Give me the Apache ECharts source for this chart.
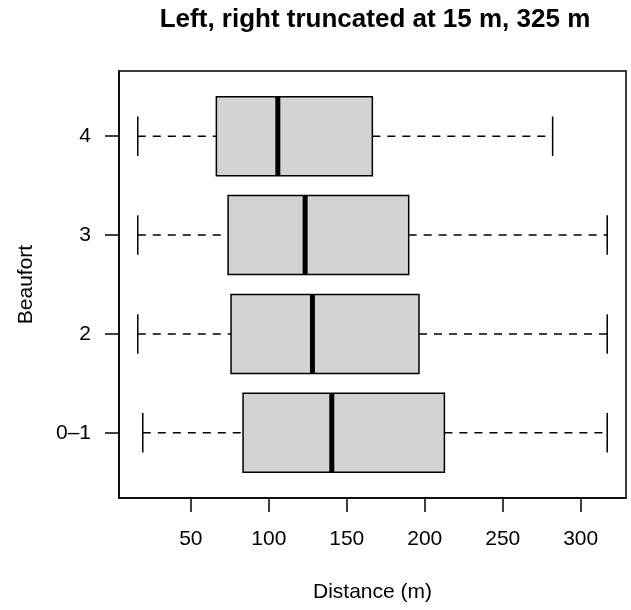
<!DOCTYPE html>
<html>
<head>
<meta charset="utf-8">
<title>Beaufort boxplot</title>
<script src="https://cdn.jsdelivr.net/npm/echarts@6/dist/echarts.min.js"></script>
<style>
  html, body { margin: 0; padding: 0; background: #fff; }
  #chart { width: 631px; height: 610px; }
</style>
</head>
<body>
<div id="chart"></div>
<script>
// 类别 (从下到上)
const categories = ['0–1', '2', '3', '4']
// 五数概括
const lowerWhisker = [19.2, 16.0, 16.0, 16.0]
const q1 = [83.5, 75.8, 73.9, 66.4]
const median = [140.4, 128.0, 123.3, 105.8]
const q3 = [212.6, 196.3, 189.7, 166.4]
const upperWhisker = [317.0, 317.0, 317.0, 282.0]
// 坐标轴刻度
const xTicks = [50, 100, 150, 200, 250, 300]
const yTicks = [1, 2, 3, 4]

const font = "'Liberation Sans', Arial, Helvetica, sans-serif"

// R 风格: 数据范围两端各扩 4%
const xMin = 16 - 0.04 * (317 - 16)
const xMax = 317 + 0.04 * (317 - 16)
const yMin = 0.5 - 0.04 * 4
const yMax = 4.5 + 0.04 * 4

const boxData = categories.map((c, i) => [
  i + 1, lowerWhisker[i], q1[i], median[i], q3[i], upperWhisker[i]
])

// 自定义绘制每个箱体: 虚线须, 端线, 灰色箱, 粗中位线
const renderBox = (params, api) => {
  const y = api.value(0)
  const pLow = api.coord([api.value(1), y])
  const pQ1 = api.coord([api.value(2), y])
  const pMed = api.coord([api.value(3), y])
  const pQ3 = api.coord([api.value(4), y])
  const pHigh = api.coord([api.value(5), y])
  const halfH = api.size([0, 0.4])[1]
  const capHalf = api.size([0, 0.2])[1]
  const cy = pMed[1]
  const dashed = { stroke: '#000', lineWidth: 1.5, lineDash: [8, 7] }
  const solid = { stroke: '#000', lineWidth: 1.5 }
  return {
    type: 'group',
    children: [
      { type: 'line', shape: { x1: pLow[0], y1: cy, x2: pQ1[0], y2: cy }, style: dashed },
      { type: 'line', shape: { x1: pQ3[0], y1: cy, x2: pHigh[0], y2: cy }, style: dashed },
      { type: 'line', shape: { x1: pLow[0], y1: cy - capHalf, x2: pLow[0], y2: cy + capHalf }, style: solid },
      { type: 'line', shape: { x1: pHigh[0], y1: cy - capHalf, x2: pHigh[0], y2: cy + capHalf }, style: solid },
      {
        type: 'rect',
        shape: { x: pQ1[0], y: cy - halfH, width: pQ3[0] - pQ1[0], height: 2 * halfH },
        style: { fill: '#d3d3d3', stroke: '#000', lineWidth: 1.5 }
      },
      {
        type: 'line',
        shape: { x1: pMed[0], y1: cy - halfH, x2: pMed[0], y2: cy + halfH },
        style: { stroke: '#000', lineWidth: 5 }
      }
    ]
  }
}

const chart = echarts.init(document.getElementById('chart'), null, { renderer: 'canvas' })
const option = {
  animation: false,
  backgroundColor: '#fff',
  textStyle: { fontFamily: font, color: '#000' },
  title: {
    text: 'Left, right truncated at 15 m, 325 m',
    left: 370,
    top: 2,
    textAlign: 'center',
    textStyle: { fontFamily: font, fontSize: 26, fontWeight: 'bold', color: '#000' }
  },
  grid: {
    left: 119,
    top: 71,
    width: 507,
    height: 427,
    show: true,
    borderColor: '#000',
    borderWidth: 1.5,
    backgroundColor: 'transparent'
  },
  xAxis: {
    type: 'value',
    min: xMin,
    max: xMax,
    name: 'Distance (m)',
    nameLocation: 'middle',
    nameGap: 84,
    nameTextStyle: { fontFamily: font, fontSize: 21, color: '#000' },
    axisLine: { show: true, onZero: false, lineStyle: { color: '#000', width: 1.5 } },
    axisTick: { show: true, inside: false, length: 14, customValues: xTicks, lineStyle: { color: '#000', width: 1.5 } },
    axisLabel: { customValues: xTicks, margin: 31, fontFamily: font, fontSize: 21, color: '#000' },
    splitLine: { show: false }
  },
  yAxis: {
    type: 'value',
    min: yMin,
    max: yMax,
    name: 'Beaufort',
    nameLocation: 'middle',
    nameGap: 82,
    nameRotate: 90,
    nameTextStyle: { fontFamily: font, fontSize: 21, color: '#000' },
    axisLine: { show: true, onZero: false, lineStyle: { color: '#000', width: 1.5 } },
    axisTick: { show: true, inside: false, length: 14, customValues: yTicks, lineStyle: { color: '#000', width: 1.5 } },
    axisLabel: {
      customValues: yTicks,
      margin: 28,
      fontFamily: font,
      fontSize: 21,
      color: '#000',
      formatter: (v) => categories[Math.round(v) - 1]
    },
    splitLine: { show: false }
  },
  series: [
    {
      type: 'custom',
      renderItem: renderBox,
      encode: { x: [1, 2, 3, 4, 5], y: 0 },
      data: boxData,
      clip: false
    }
  ]
}
chart.setOption(option)
</script>
</body>
</html>
